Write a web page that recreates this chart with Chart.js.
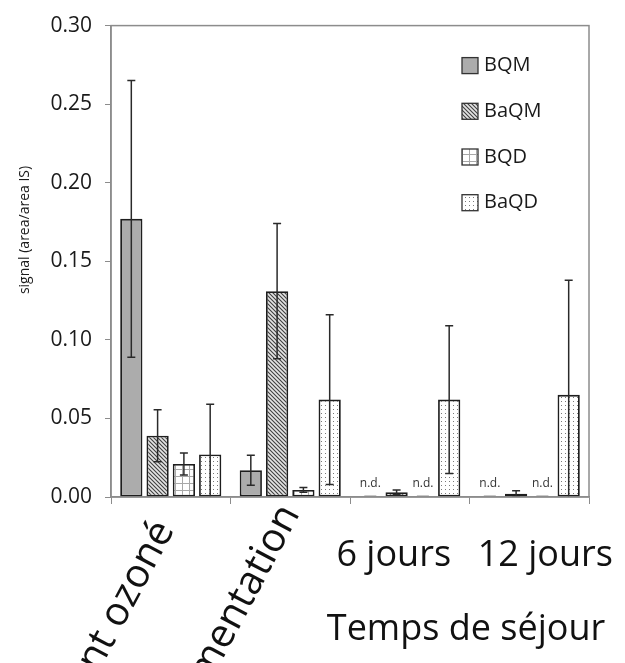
<!DOCTYPE html>
<html>
<head>
<meta charset="utf-8">
<script src="https://cdn.jsdelivr.net/npm/chart.js@4.4.1/dist/chart.umd.min.js"></script>
<style>
  html, body { margin: 0; padding: 0; background: #fff; }
</style>
</head>
<body>
<canvas id="signalChart" width="625" height="663"></canvas>
<script>
// data (null = n.d.)
const categories = ['Effluent ozoné', 'Fin d\'alimentation', '6 jours', '12 jours'];
const seriesNames = ['BQM', 'BaQM', 'BQD', 'BaQD'];
const bqm = [0.177, 0.017, null, null];
const bqmErr = [0.088, 0.0095, null, null];
const baqm = [0.039, 0.131, 0.003, 0.002];
const baqmErr = [0.0165, 0.043, 0.0015, 0.002];
const bqd = [0.021, 0.0045, null, null];
const bqdErr = [0.007, 0.0015, null, null];
const baqd = [0.027, 0.062, 0.062, 0.065];
const baqdErr = [0.032, 0.054, 0.047, 0.073];
const yTicks = [0, 0.05, 0.10, 0.15, 0.20, 0.25, 0.30];
const yTitle = 'signal (area/area IS)';
const xTitle = 'Temps de séjour';

// fill patterns for the bars
function makePattern(kind) {
    const c = document.createElement('canvas');
    const p = c.getContext('2d');
    if (kind === 'solid') {
        c.width = c.height = 4;
        p.fillStyle = '#acacac';
        p.fillRect(0, 0, 4, 4);
    } else if (kind === 'hatch') {
        c.width = c.height = 4;
        p.fillStyle = '#e4e4e4';
        p.fillRect(0, 0, 4, 4);
        p.strokeStyle = '#404040';
        p.lineWidth = 1.1;
        p.beginPath();
        p.moveTo(-1, -1); p.lineTo(5, 5);
        p.moveTo(3, -1); p.lineTo(5, 1);
        p.moveTo(-1, 3); p.lineTo(1, 5);
        p.stroke();
    } else if (kind === 'grid') {
        c.width = c.height = 7;
        p.fillStyle = '#ffffff';
        p.fillRect(0, 0, 7, 7);
        p.fillStyle = '#a8a8a8';
        p.fillRect(0, 0, 7, 1);
        p.fillRect(0, 0, 1, 7);
    } else {
        c.width = c.height = 4;
        p.fillStyle = '#ffffff';
        p.fillRect(0, 0, 4, 4);
        p.fillStyle = '#7a7a7a';
        p.fillRect(1, 1, 1, 1);
    }
    return p.createPattern(c, 'repeat');
}

const fills = [makePattern('solid'), makePattern('hatch'), makePattern('grid'), makePattern('dots')];
const values = [bqm, baqm, bqd, baqd];
const errors = [bqmErr, baqmErr, bqdErr, baqdErr];

const datasets = seriesNames.map(function(name, i) {
    return {
        label: name,
        data: values[i],
        errors: errors[i],
        backgroundColor: fills[i],
        borderColor: '#1e1e1e',
        borderWidth: 1.8,
        borderSkipped: false,
        categoryPercentage: 0.88,
        barPercentage: 0.846
    };
});

// error bars, n.d. marks, frame, legend and text labels
const decorations = {
    id: 'decorations',
    afterDatasetsDraw(chart) {
        const ctx = chart.ctx;
        const a = chart.chartArea;
        const ys = chart.scales.y;
        ctx.save();
        ctx.beginPath();
        ctx.rect(a.left, a.top, a.right - a.left, a.bottom - a.top);
        ctx.clip();
        ctx.strokeStyle = '#2a2a2a';
        ctx.lineWidth = 1.5;
        chart.data.datasets.forEach(function(ds, di) {
            const meta = chart.getDatasetMeta(di);
            ds.data.forEach(function(v, i) {
                const bar = meta.data[i];
                if (v === null || ds.errors[i] === null) return;
                const top = ys.getPixelForValue(v + ds.errors[i]);
                const bot = ys.getPixelForValue(v - ds.errors[i]);
                ctx.beginPath();
                ctx.moveTo(bar.x, top); ctx.lineTo(bar.x, bot);
                ctx.moveTo(bar.x - 4, top); ctx.lineTo(bar.x + 4, top);
                ctx.moveTo(bar.x - 4, bot); ctx.lineTo(bar.x + 4, bot);
                ctx.stroke();
            });
        });
        ctx.restore();

        // n.d. labels
        ctx.save();
        ctx.font = '12px "Open Sans"';
        ctx.fillStyle = '#333';
        ctx.textAlign = 'center';
        ctx.textBaseline = 'middle';
        chart.data.datasets.forEach(function(ds, di) {
            const meta = chart.getDatasetMeta(di);
            ds.data.forEach(function(v, i) {
                if (v !== null) return;
                const bx = meta.data[i].x;
                ctx.fillText('n.d.', bx, ys.getPixelForValue(0) - 13);
                ctx.strokeStyle = '#c8c8c8';
                ctx.lineWidth = 1;
                ctx.beginPath();
                ctx.moveTo(bx - 6, ys.getPixelForValue(0) - 1.5);
                ctx.lineTo(bx + 6, ys.getPixelForValue(0) - 1.5);
                ctx.stroke();
            });
        });
        ctx.restore();
    },
    afterDraw(chart) {
        const ctx = chart.ctx;
        const a = chart.chartArea;
        const xs = chart.scales.x;
        ctx.save();
        // plot frame
        ctx.strokeStyle = '#8c8c8c';
        ctx.lineWidth = 1.5;
        ctx.strokeRect(a.left, a.top, a.right - a.left, a.bottom - a.top);

        // legend inside the plot
        ctx.font = '20px "Open Sans"';
        ctx.textAlign = 'left';
        ctx.textBaseline = 'middle';
        chart.data.datasets.forEach(function(ds, i) {
            const bx = a.right - 127, by = a.top + 32 + i * 45.7;
            ctx.fillStyle = ds.backgroundColor;
            ctx.fillRect(bx, by, 16, 16);
            ctx.strokeStyle = '#333';
            ctx.lineWidth = 1.3;
            ctx.strokeRect(bx, by, 16, 16);
            ctx.fillStyle = '#1a1a1a';
            ctx.fillText(ds.label, bx + 22, by + 8);
        });

        // y axis title
        ctx.save();
        ctx.translate(25, 230);
        ctx.rotate(-Math.PI / 2);
        ctx.font = '14px "Open Sans"';
        ctx.textAlign = 'center';
        ctx.fillStyle = '#1a1a1a';
        ctx.fillText(yTitle, 0, 0);
        ctx.restore();

        // category labels
        ctx.fillStyle = '#111';
        const rotAnchor = [[-6, 524], [0, 508]];
        const flatShift = [0, 0, -16, 16];
        chart.data.labels.forEach(function(lab, i) {
            const cx = xs.getPixelForValue(i);
            if (i < 2) {
                ctx.save();
                ctx.font = '40px "Open Sans"';
                ctx.translate(cx + rotAnchor[i][0], rotAnchor[i][1]);
                ctx.rotate(-62 * Math.PI / 180);
                ctx.textAlign = 'right';
                ctx.textBaseline = 'middle';
                ctx.fillText(lab, 0, 0);
                ctx.restore();
            } else {
                ctx.font = '36px "Open Sans"';
                ctx.textAlign = 'center';
                ctx.textBaseline = 'alphabetic';
                ctx.fillText(lab, cx + flatShift[i], 566);
            }
        });

        // x axis title
        ctx.font = '36px "Open Sans"';
        ctx.textAlign = 'center';
        ctx.textBaseline = 'alphabetic';
        ctx.fillText(xTitle, 466, 640);
        ctx.restore();
    }
};

var ctx = document.getElementById('signalChart').getContext('2d');
var signalChart = new Chart(ctx, {
    type: 'bar',
    data: {
        labels: categories,
        datasets: datasets
    },
    options: {
        responsive: false,
        animation: false,
        layout: { padding: { top: 18, right: 36, left: 0, bottom: 0 } },
        plugins: {
            legend: { display: false },
            tooltip: { enabled: false }
        },
        scales: {
            x: {
                grid: { offset: true, drawOnChartArea: false, tickLength: 7, color: '#8c8c8c' },
                border: { color: '#8c8c8c', width: 1.5 },
                ticks: { display: false },
                afterFit: function(s) { s.height = 166; }
            },
            y: {
                min: 0,
                max: 0.3,
                grid: { drawOnChartArea: false, tickLength: 6, color: '#8c8c8c' },
                border: { color: '#8c8c8c', width: 1.5 },
                afterBuildTicks: function(s) { s.ticks = yTicks.map(function(v) { return { value: v }; }); },
                ticks: {
                    padding: 13,
                    color: '#1a1a1a',
                    font: { family: 'Open Sans', size: 21 },
                    callback: function(v) { return v.toFixed(2); }
                },
                afterFit: function(s) { s.width = 111; }
            }
        }
    },
    plugins: [decorations]
});
</script>
</body>
</html>
